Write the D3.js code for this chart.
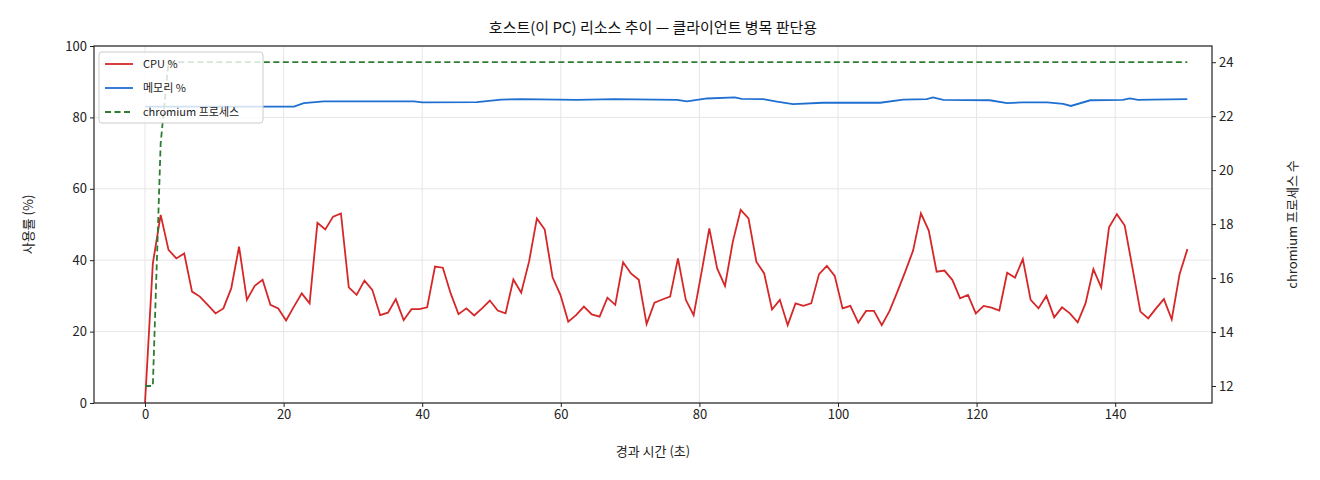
<!DOCTYPE html>
<html><head><meta charset="utf-8">
<script src="https://cdn.jsdelivr.net/npm/d3@7"></script>
<style>body{margin:0;background:#fff;font-family:"Noto Sans CJK KR","Noto Sans",sans-serif}</style>
</head><body><svg id="c" width="1320" height="480"></svg>
<script>
const sampleInterval = 1.131; // seconds between CPU samples
const cpuValues = [0,39.1,52.7,42.9,40.5,41.9,31.2,29.8,27.5,25.1,26.5,32.1,43.8,28.9,32.8,34.5,27.5,26.5,23.1,27,30.7,27.9,50.5,48.6,52.2,53.1,32.4,30.3,34.3,31.7,24.6,25.3,29.1,23.2,26.3,26.3,26.8,38.2,37.9,30.7,24.9,26.5,24.5,26.5,28.7,25.9,25.1,34.6,30.9,39.6,51.7,48.6,35.2,30.3,22.8,24.6,27,24.8,24.2,29.5,27.5,39.4,36.3,34.5,22.1,28.1,29,29.8,40.5,28.9,24.6,36.5,48.9,37.7,32.8,45.2,54.1,51.7,39.6,36.3,26.2,28.9,21.8,27.9,27.2,27.9,36.1,38.4,35.6,26.5,27.2,22.5,25.8,25.8,21.8,25.8,31.2,36.8,42.7,53.1,48.3,36.8,37.1,34.5,29.3,30.3,25.1,27.2,26.7,25.9,36.5,35.1,40.3,28.9,26.5,30,24,26.8,25.1,22.6,27.9,37.5,32.4,49.2,52.9,49.7,37.7,25.6,23.7,26.5,29.1,23.4,36.1,43.1];
const memTimes = [0,21.5,22.9,25.8,38.8,40,47.9,51.4,54.3,62.3,67.7,76.8,78.2,81.1,85.1,86.1,89.2,91.2,93.5,97.8,106.1,109.4,112.8,113.7,115.2,121.9,124.4,126.7,130.2,132.5,133.6,136.4,141.1,142.1,143.3,145.3,150.4];
const memValues = [83.0,83.0,84.0,84.5,84.5,84.2,84.3,85.0,85.1,84.9,85.1,84.9,84.5,85.3,85.6,85.2,85.1,84.4,83.7,84.1,84.1,85.0,85.1,85.6,84.9,84.8,84.0,84.2,84.2,83.8,83.2,84.8,84.9,85.3,84.9,85.0,85.1];
const procTimes = [0,1.13,2.26,3.39,150.4];
const procValues = [12,12,21,24,24];
const xTicks = [0,20,40,60,80,100,120,140];
const yTicks = [0,20,40,60,80,100];
const y2Ticks = [12,14,16,18,20,22,24];
const legendLabels = ["CPU %","메모리 %","chromium 프로세스"];
const colors = ["#d62728","#1f6fd0","#2e7d32"];

const L=94,R=1212,T=46,B=403;
const svg=d3.select("#c");
const x=d3.scaleLinear().domain([-7.36,153.97]).range([L,R]);
const y=d3.scaleLinear().domain([0,100]).range([B,T]);
const y2=d3.scaleLinear().domain([11.37,24.6]).range([B,T]);
const font='"Noto Sans CJK KR","Noto Sans",sans-serif';

const g=svg.append("g");
g.selectAll(".vg").data(xTicks).join("line").attr("x1",d=>x(d)).attr("x2",d=>x(d)).attr("y1",T).attr("y2",B).attr("stroke","#e6e6e6");
g.selectAll(".hg").data(yTicks).join("line").attr("x1",L).attr("x2",R).attr("y1",d=>y(d)).attr("y2",d=>y(d)).attr("stroke","#e6e6e6");

const cpu=cpuValues.map((v,i)=>[i*sampleInterval,v]);
const mem=memTimes.map((t,i)=>[t,memValues[i]]);
const proc=procTimes.map((t,i)=>[t,procValues[i]]);
const ln=d3.line().x(d=>x(d[0])).y(d=>y(d[1]));
const ln2=d3.line().x(d=>x(d[0])).y(d=>y2(d[1]));
svg.append("path").attr("d",ln(cpu)).attr("fill","none").attr("stroke",colors[0]).attr("stroke-width",1.8);
svg.append("path").attr("d",ln(mem)).attr("fill","none").attr("stroke",colors[1]).attr("stroke-width",1.8);
svg.append("path").attr("d",ln2(proc)).attr("fill","none").attr("stroke",colors[2]).attr("stroke-width",1.8).attr("stroke-dasharray","6,3.5");

const ax=svg.append("g").attr("transform",`translate(0,${B})`).call(d3.axisBottom(x).tickValues(xTicks).tickSizeOuter(0).tickSize(4));
const ay=svg.append("g").attr("transform",`translate(${L},0)`).call(d3.axisLeft(y).tickValues(yTicks).tickSizeOuter(0).tickSize(4));
const ay2=svg.append("g").attr("transform",`translate(${R},0)`).call(d3.axisRight(y2).tickValues(y2Ticks).tickSizeOuter(0).tickSize(4));
[ax,ay,ay2].forEach(a=>{a.select(".domain").remove();a.selectAll("text").attr("font-family",font).attr("font-size",13).attr("fill","#222");a.selectAll("line").attr("stroke","#222");});
svg.append("rect").attr("x",L).attr("y",T).attr("width",R-L).attr("height",B-T).attr("fill","none").attr("stroke","#222").attr("stroke-width",1.2);

svg.append("text").attr("x",(L+R)/2).attr("y",33).attr("text-anchor","middle").attr("font-family",font).attr("font-size",15).attr("fill","#111").text("호스트(이 PC) 리소스 추이 — 클라이언트 병목 판단용");
svg.append("text").attr("x",(L+R)/2).attr("y",456).attr("text-anchor","middle").attr("font-family",font).attr("font-size",13).attr("fill","#222").text("경과 시간 (초)");
svg.append("text").attr("transform",`translate(33,${(T+B)/2}) rotate(-90)`).attr("text-anchor","middle").attr("font-family",font).attr("font-size",13).attr("fill","#222").text("사용률 (%)");
svg.append("text").attr("transform",`translate(1297,${(T+B)/2}) rotate(-90)`).attr("text-anchor","middle").attr("font-family",font).attr("font-size",13).attr("fill","#222").text("chromium 프로세스 수");

const lg=svg.append("g").attr("transform","translate(99,52)");
lg.append("rect").attr("width",164).attr("height",71).attr("rx",3).attr("fill","rgba(255,255,255,0.8)").attr("stroke","#ccc");
legendLabels.forEach((t,i)=>{
  const yy=12+i*24;
  lg.append("line").attr("x1",6).attr("x2",34).attr("y1",yy).attr("y2",yy).attr("stroke",colors[i]).attr("stroke-width",1.8).attr("stroke-dasharray",i==2?"6,3.5":null);
  lg.append("text").attr("x",44).attr("y",yy+4).attr("font-family",font).attr("font-size",11).attr("fill","#222").text(t);
});
</script></body></html>
